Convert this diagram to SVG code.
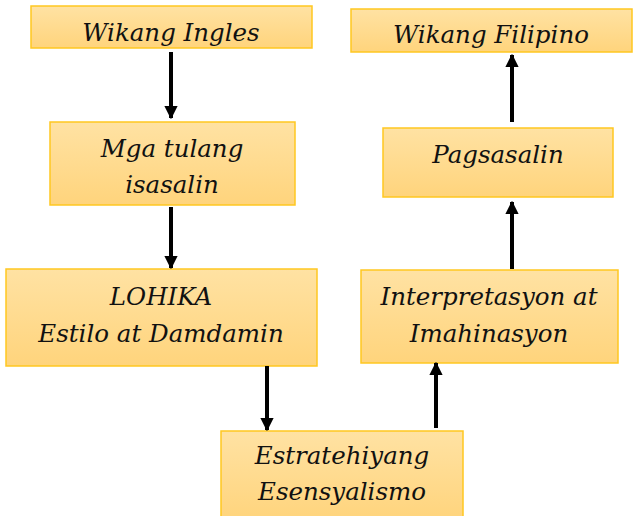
<svg xmlns="http://www.w3.org/2000/svg" width="637" height="516" viewBox="0 0 637 516">
<defs>
<linearGradient id="g" x1="0" y1="0" x2="0" y2="1">
<stop offset="0" stop-color="#FFE2A3"/>
<stop offset="1" stop-color="#FFD47C"/>
</linearGradient>
<marker id="ah" viewBox="0 0 10 10" refX="9" refY="5" markerWidth="3.3" markerHeight="3.3" orient="auto" markerUnits="strokeWidth">
<path d="M0,0 L10,5 L0,10 z" fill="#000"/>
</marker>
<style>
.box{fill:url(#g);stroke:#FFC720;stroke-width:1.5}
.t{font-family:"DejaVu Serif","Liberation Serif",serif;font-style:italic;font-size:24.5px;fill:#111;text-anchor:middle}
.c{stroke:#000;stroke-width:4;fill:none;marker-end:url(#ah)}
</style>
</defs>
<rect width="637" height="516" fill="#fff"/>
<g id="n1"><rect class="box" x="31" y="6" width="281" height="42"/><text class="t" x="171" y="41">Wikang Ingles</text></g>
<g id="n2"><rect class="box" x="351" y="9" width="281" height="43"/><text class="t" x="491" y="43">Wikang Filipino</text></g>
<g id="n3"><rect class="box" x="50" y="122" width="245" height="83"/><text class="t" x="172" y="157">Mga tulang</text><text class="t" x="172" y="193">isasalin</text></g>
<g id="n4"><rect class="box" x="383" y="128" width="230" height="69"/><text class="t" x="498" y="163">Pagsasalin</text></g>
<g id="n5"><rect class="box" x="6" y="269" width="311" height="97"/><text class="t" x="161" y="305">LOHIKA</text><text class="t" x="161" y="342">Estilo at Damdamin</text></g>
<g id="n6"><rect class="box" x="361" y="270" width="257" height="93"/><text class="t" x="489" y="305">Interpretasyon at</text><text class="t" x="489" y="342">Imahinasyon</text></g>
<g id="n7"><rect class="box" x="221" y="431" width="242" height="90"/><text class="t" x="342" y="464">Estratehiyang</text><text class="t" x="342" y="500">Esensyalismo</text></g>
<g id="connectors">
<line class="c" x1="171" y1="52" x2="171" y2="118"/>
<line class="c" x1="171" y1="207" x2="171" y2="268"/>
<line class="c" x1="267" y1="366" x2="267" y2="430"/>
<line class="c" x1="436" y1="428" x2="436" y2="363"/>
<line class="c" x1="512" y1="269" x2="512" y2="202"/>
<line class="c" x1="512" y1="122" x2="512" y2="55"/>
</g>
</svg>
